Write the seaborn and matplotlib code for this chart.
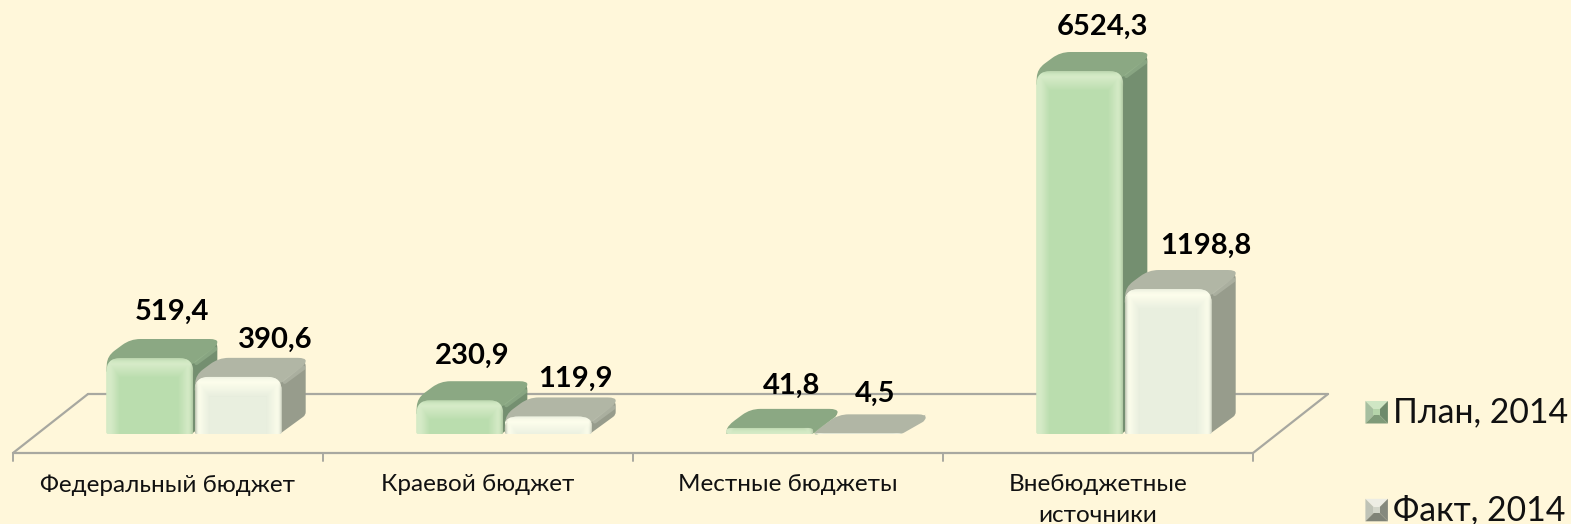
import numpy as np
import pandas as pd
import seaborn as sns
import matplotlib
matplotlib.use("Agg")
import matplotlib.pyplot as plt
from matplotlib.path import Path
from matplotlib.patches import PathPatch, Patch, Polygon
from matplotlib.lines import Line2D
from matplotlib.transforms import Affine2D
from matplotlib.legend_handler import HandlerBase

# ---- data -------------------------------------------------------------
categories = ["Федеральный бюджет", "Краевой бюджет", "Местные бюджеты",
              "Внебюджетные\nисточники"]
plan_2014 = [519.4, 230.9, 41.8, 6524.3]
fact_2014 = [390.6, 119.9, 4.5, 1198.8]
series_names = ["План, 2014", "Факт, 2014"]

# The value axis of the original is not linear: its height is read off per value.
scale_values = [0, 519.4, 1198.8, 6524.3, 8000]
scale_heights = [0, 76, 145, 363, 434]

# ---- style ------------------------------------------------------------
W, H = 1571, 524
BG = "#FFF7DA"
LINE = "#A8A8A0"
FONT = ["Lato", "Noto Sans", "DejaVu Sans"]
DX, DY = 24, 19          # depth of a bar, px
FLOOR_FRONT = (-26, 19)  # floor front edge relative to bar base, px
FLOOR_BACK = (49, -40)   # floor back edge relative to bar base, px

kits = {
    series_names[0]: dict(front="#BADDAE", top="#8BA883", side="#748F70", seam="#9DBB94",
                          left=(.40, 0, 0), right=(.38, .28), topg=(.42, .12)),
    series_names[1]: dict(front="#E9EFDF", top="#B1B6A5", side="#979C8C", seam="#BEC2B2",
                          left=(.80, .35, 0), right=(.75, .30), topg=(.92, .05)),
}
label_nudges = [(22, 46), (12, 44), (22, 42), (23, 44),
                (37, 37), (27, 38), (17, 39), (38, 43)]

sns.set_theme(style="white")
plt.rcParams["font.family"] = FONT
plt.rcParams["savefig.facecolor"] = BG

fig = plt.figure(figsize=(W / 100, H / 100), dpi=100, facecolor=BG)
ax = fig.add_axes([39 / W, 1 - 434 / H, 1240 / W, 434 / H])
ax.patch.set_alpha(0)

df = pd.DataFrame({
    "category": categories * 2,
    "series": [series_names[0]] * 4 + [series_names[1]] * 4,
    "value": plan_2014 + fact_2014,
})
sns.barplot(data=df, x="category", y="value", hue="series", order=categories,
            hue_order=series_names, palette=[kits[s]["front"] for s in series_names],
            width=0.57, gap=0.015, saturation=1, legend=False, ax=ax, errorbar=None)

ax.set_yscale("function", functions=(
    lambda v: np.interp(v, scale_values, scale_heights),
    lambda h: np.interp(h, scale_heights, scale_values)))
ax.set_xlim(-0.5, 3.5)
ax.set_ylim(0, scale_values[-1])
ax.set_autoscale_on(False)
ax.set_xlabel("")
ax.set_ylabel("")
ax.set_yticks([])
ax.minorticks_off()
for s in ax.spines.values():
    s.set_visible(False)

# top-left pixel coordinates -> display
pxT = Affine2D().scale(1, -1).translate(0, H)


def to_px(x, y):
    dx, dy = ax.transData.transform((x, y))
    return dx, H - dy


def rounded(points, radii):
    """Closed path through points, with each corner rounded by its radius."""
    pts = [np.array(p, float) for p in points]
    n = len(pts)
    verts, codes = [], []
    for i, (p, r) in enumerate(zip(pts, radii)):
        a, b = pts[i - 1], pts[(i + 1) % n]
        la, lb = np.linalg.norm(a - p), np.linalg.norm(b - p)
        r1 = min(r, la * .5)
        r2 = min(r, lb * .5)
        s = p + (a - p) / max(la, 1e-6) * r1
        e = p + (b - p) / max(lb, 1e-6) * r2
        verts += [s, p, e]
        codes += [Path.MOVETO if i == 0 else Path.LINETO, Path.CURVE3, Path.CURVE3]
    verts.append(verts[0])
    codes.append(Path.CLOSEPOLY)
    return Path(np.array(verts), codes)


def gloss(w, h, kit):
    """RGBA shading of a bar's front face: bright bevels, soft edges."""
    w, h = max(int(round(w)), 2), max(int(round(h)), 2)
    xl = np.arange(w) + .5
    yl = np.arange(h) + .5
    wl, dl, _ = kit["left"]
    wr, dr = kit["right"]
    wt, dt = kit["topg"]
    wh_l = np.interp(xl, [0, 5, 14], [wl * .3 if dl else wl, wl, 0])
    wh_r = np.interp(w - xl, [0, 6, 16], [wr * .2, wr, 0])
    wh_t = np.interp(yl, [0, 6, 20], [wt * .4, wt, 0])
    da_l = np.interp(xl, [0, 3], [dl, 0])
    da_r = np.interp(w - xl, [0, 4], [dr, 0])
    da_t = np.interp(yl, [0, 3], [dt, 0])
    white = np.maximum.reduce([np.tile(wh_l, (h, 1)), np.tile(wh_r, (h, 1)),
                               np.tile(wh_t[:, None], (1, w))])
    dark = np.maximum.reduce([np.tile(da_l, (h, 1)), np.tile(da_r, (h, 1)),
                              np.tile(da_t[:, None], (1, w))])
    rgb = white[..., None] * np.array([1, 1, .93]) + dark[..., None] * np.array([.35, .38, .3])
    alpha = np.clip(white + dark, 0, 1)
    safe = np.where(alpha > 0, alpha, 1)[..., None]
    return np.dstack([np.clip(rgb / safe, 0, 1), alpha])


# floor -----------------------------------------------------------------
left, base = to_px(-0.5, 0)
right, _ = to_px(3.5, 0)
fx, fy = FLOOR_FRONT
bx, by = FLOOR_BACK
floor = [([left + fx, right + fx], [base + fy, base + fy]),
         ([left + bx, right + bx], [base + by, base + by]),
         ([left + fx, left + bx], [base + fy, base + by]),
         ([right + fx, right + bx], [base + fy, base + by])]
for xs, ys in floor:
    ax.add_line(Line2D(xs, ys, color=LINE, lw=1.6, transform=pxT, clip_on=False, zorder=1))
for i in range(5):
    tx, _ = to_px(i - 0.5, 0)
    ax.add_line(Line2D([tx + fx] * 2, [base + fy, base + fy + 8], color=LINE, lw=1.4,
                       transform=pxT, clip_on=False, zorder=1))

# bars: the seaborn rectangles are the front faces; depth is derived from them
for level, (container, name) in enumerate(zip(ax.containers, series_names)):
    kit = kits[name]
    zb = 2 + 3 * level
    for bar in container:
        x0, yb = to_px(bar.get_x(), 0)
        x1, yt = to_px(bar.get_x() + bar.get_width(), bar.get_height())
        h = yb - yt
        r = min(14, h)
        side = rounded([(x1 - 4, yt), (x1 + DX, yt - DY), (x1 + DX, yb - DY), (x1 - 2, yb)],
                       [0, 9, 3, 0])
        lip = min(yt + 14, yb)
        top = rounded([(x0, lip), (x0 + 1, yt - 2), (x0 + DX, yt - DY), (x1 + DX, yt - DY),
                       (x1 + DX, yt - DY + 6), (x1, min(yt + 6, yb))],
                      [1, 9, 10, 8, 4, 3])
        ax.add_patch(PathPatch(side, fc=kit["side"], ec="none", transform=pxT,
                               clip_on=False, zorder=zb))
        ax.add_patch(PathPatch(top, fc=kit["top"], ec="none", transform=pxT,
                               clip_on=False, zorder=zb))
        if h > 3:
            ax.add_line(Line2D([x1 + 3, x1 + DX - 2], [yt + 5, yt - DY + 10], color=kit["seam"],
                               lw=3, alpha=.5, transform=pxT, clip_on=False,
                               solid_capstyle="round", zorder=zb))
        face = rounded([(x0, yb), (x0, yt), (x1, yt), (x1, yb)], [2, r, r, 2])
        bar.set_zorder(zb + 1)
        bar.set_linewidth(0)
        bar.set_clip_path(face, pxT)
        im = ax.imshow(gloss(x1 - x0, h, kit), extent=(x0, x1, yb, yt), origin="upper",
                       aspect="auto", interpolation="bilinear", transform=pxT, zorder=zb + 2)
        im.set_clip_path(face, pxT)

ax.set_xlim(-0.5, 3.5)
ax.set_ylim(0, scale_values[-1])

# value labels ----------------------------------------------------------
all_bars = list(ax.containers[0]) + list(ax.containers[1])
for bar, v, (nx, ny) in zip(all_bars, plan_2014 + fact_2014, label_nudges):
    ax.annotate(f"{v:.1f}".replace(".", ","), (bar.get_x() + bar.get_width() / 2, v),
                xytext=(nx, ny), textcoords="offset pixels", ha="center", va="center",
                fontsize=21, fontweight="bold", color="black", family=FONT,
                annotation_clip=False, zorder=20)

# category labels -------------------------------------------------------
ax.set_xticks(range(4))
ax.set_xticklabels(categories, fontsize=17.5, color="#111111", linespacing=1.6, family=FONT)
ax.tick_params(axis="x", length=0, pad=29)
shift = Affine2D().translate(fx, 0)
for lab in ax.get_xticklabels():
    lab.set_transform(lab.get_transform() + shift)
    lab.set_va("top")
    lab.set_clip_on(False)


# legend ----------------------------------------------------------------
class Pyramid(HandlerBase):
    shades = {
        series_names[0]: ("#CFE6C4", "#A6BFA0", "#6E8A6B", "#7F9B79", "#B5D4AA"),
        series_names[1]: ("#EDEDE4", "#BFC3B7", "#85897D", "#7F8377", "#D2D5C9"),
    }

    def create_artists(self, legend, orig, xd, yd, width, height, fontsize, trans):
        s = 16.2
        x0 = -xd + 1
        y0 = -yd + (height - s) / 2 - 1.5
        x1, y1 = x0 + s, y0 + s
        cx, cy = x0 + s / 2, y0 + s / 2
        m = s * .14
        t, l, r, b, c = self.shades[orig.get_label()]
        shapes = [([(x0, y1), (x1, y1), (cx, cy)], t), ([(x0, y0), (x0, y1), (cx, cy)], l),
                  ([(x1, y0), (x1, y1), (cx, cy)], r), ([(x0, y0), (x1, y0), (cx, cy)], b),
                  ([(cx - m, cy + m), (cx + m, cy + m), (cx + m, cy - m), (cx - m, cy - m)], c)]
        return [Polygon(p, closed=True, fc=col, ec="none", transform=trans) for p, col in shapes]


handles = [Patch(facecolor=kits[s]["front"], label=s) for s in series_names]
handler = Pyramid()
leg = fig.legend(handles=handles, labels=series_names, handler_map={Patch: handler},
                 loc="upper left", bbox_to_anchor=(1364 / W, 1 - 396 / H), frameon=False,
                 fontsize=24.3, labelspacing=1.95, handlelength=0.66, handleheight=0.66,
                 handletextpad=0.2, borderpad=0, borderaxespad=0)
for t in leg.get_texts():
    t.set_color("#111111")
    t.set_family(FONT)

fig.savefig("out.png", dpi=100, facecolor=BG)
